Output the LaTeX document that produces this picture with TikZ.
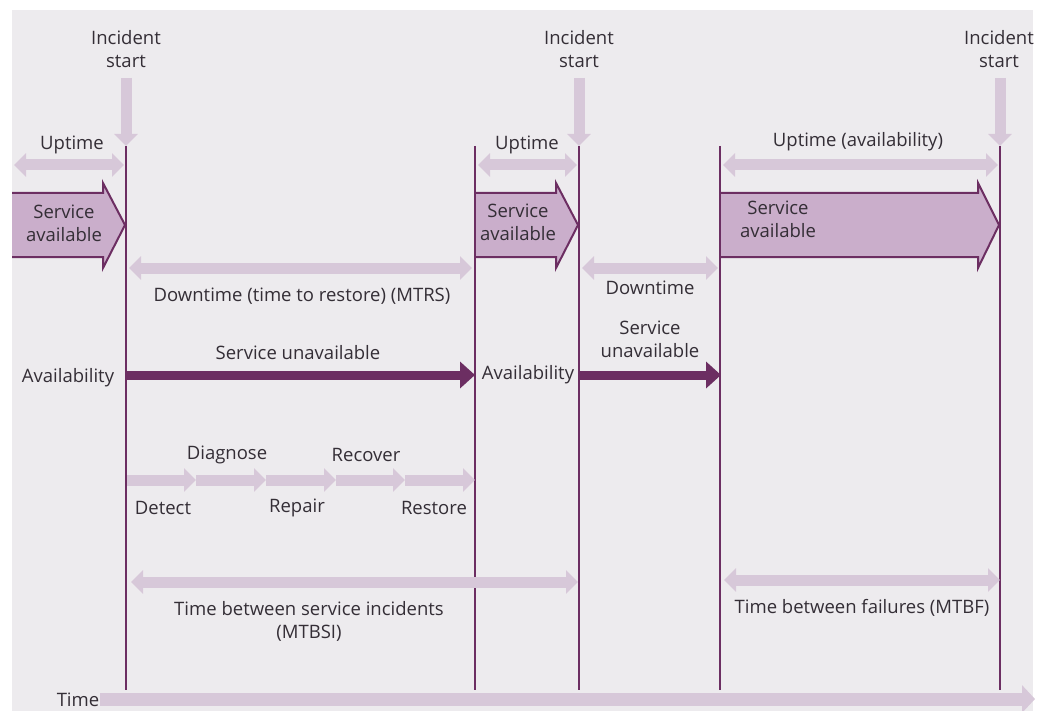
\documentclass[tikz,border=0pt]{standalone}
\usepackage{fontspec}
\setmainfont{Open Sans}
\usetikzlibrary{arrows.meta}
\definecolor{plum}{RGB}{108,46,98}
\definecolor{lilac}{RGB}{215,200,217}
\definecolor{mauve}{RGB}{202,174,203}
\definecolor{page}{RGB}{237,235,238}
\definecolor{ink}{RGB}{52,46,54}

\tikzset{
  lbl/.style={text=ink,font=\fontsize{18.5}{23}\selectfont,align=center,inner sep=0pt},
  span/.style={lilac,line width=11pt,{Triangle[width=23pt,length=12pt]}-{Triangle[width=23pt,length=12pt]}},
  fwd/.style={lilac,line width=11pt,-{Triangle[width=23pt,length=12pt]}},
  avail/.style={plum,line width=9pt,-{Triangle[width=26pt,length=15pt]}},
  tick/.style={plum,line width=2.4pt},
  block/.style={fill=mauve},
}

\begin{document}
\begin{tikzpicture}[x=1pt,y=-1pt,line join=miter]
  \useasboundingbox (0,0) rectangle (1040,711);
  \fill[page] (12,10) rectangle (1033,711);

  % service available blocks
  \foreach \xa/\xh/\xt in {12/103/125, 475/556/578, 720/978/999} {
    \fill[block] (\xa,193)--(\xh,193)--(\xh,183)--(\xt,225)--(\xh,268)--(\xh,257)--(\xa,257)--cycle;
    \draw[plum,line width=2pt] (\xa,193)--(\xh,193)--(\xh,183)--(\xt,225)--(\xh,268)--(\xh,257)--(\xa,257);
  }

  % time marks
  \foreach \x/\n in {126/a,475/b,579/c,720/d,1000/e} {
    \coordinate (\n top) at (\x,146);
    \coordinate (\n bot) at (\x,690);
    \draw[tick] (\n top)--(\n bot);
  }

  % incident arrows
  \foreach \x/\n in {126/a,579/c,1000/e} {
    \coordinate (\n inc) at (\x,78);
    \draw[fwd,line width=11pt] (\n inc)--(\n top);
  }

  % uptime
  \coordinate (up1) at (14,165);  \coordinate (up2) at (124,165);
  \coordinate (up3) at (478,165); \coordinate (up4) at (577,165);
  \coordinate (up5) at (723,165); \coordinate (up6) at (998,165);
  \draw[span] (up1)--(up2);
  \draw[span] (up3)--(up4);
  \draw[span] (up5)--(up6);

  % downtime
  \coordinate (dn1) at (129,268); \coordinate (dn2) at (472,268);
  \coordinate (dn3) at (582,268); \coordinate (dn4) at (718,268);
  \draw[span] (dn1)--(dn2);
  \draw[span] (dn3)--(dn4);

  % service unavailable
  \coordinate (un1) at (127,375); \coordinate (un2) at (475,375);
  \coordinate (un3) at (580,375); \coordinate (un4) at (721,375);
  \draw[avail] (un1)--(un2);
  \draw[avail] (un3)--(un4);

  % restore steps
  \foreach \x/\n in {127/s0,196/s1,266/s2,336/s3,405/s4,475/s5}
    \coordinate (\n) at (\x,480);
  \foreach \p/\q in {s0/s1,s1/s2,s2/s3,s3/s4,s4/s5}
    \draw[fwd] (\p)--(\q);

  % mtbsi, mtbf, time
  \coordinate (bs1) at (131,582); \coordinate (bs2) at (578,582);
  \coordinate (bf1) at (724,580); \coordinate (bf2) at (1000,580);
  \draw[span] (bs1)--(bs2);
  \draw[span] (bf1)--(bf2);
  \coordinate (tm1) at (100,699); \coordinate (tm2) at (1035,699);
  \draw[fwd,line width=13pt,-{Triangle[width=27pt,length=13pt]}] (tm1)--(tm2);

  % labels
  \node[lbl] (incA) at (126,49) {Incident\\start};
  \node[lbl] (incC) at (579,49) {Incident\\start};
  \node[lbl] (incE) at (999,49) {Incident\\start};
  \node[lbl] (upA) at (72,145) {Uptime};
  \node[lbl] (upB) at (527,145) {Uptime};
  \node[lbl] (upC) at (858,142) {Uptime (availability)};
  \node[lbl] (svA) at (64,223) {Service\\available};
  \node[lbl] (svB) at (518,222) {Service\\available};
  \node[lbl] (svC) at (778,219) {Service\\available};
  \node[lbl] (dnA) at (302,296) {Downtime (time to restore) (MTRS)};
  \node[lbl] (dnB) at (650,288) {Downtime};
  \node[lbl] (unA) at (298,353) {Service unavailable};
  \node[lbl] (unB) at (650,339) {Service\\unavailable};
  \node[lbl] (avA) at (68,378) {Availability};
  \node[lbl] (avB) at (528,375) {Availability};
  \node[lbl] (stDg) at (227,455) {Diagnose};
  \node[lbl] (stRc) at (366,455) {Recover};
  \node[lbl] (stDt) at (163,508) {Detect};
  \node[lbl] (stRp) at (297,508) {Repair};
  \node[lbl] (stRs) at (434,508) {Restore};
  \node[lbl] (bsi) at (309,621) {Time between service incidents\\(MTBSI)};
  \node[lbl] (bf) at (862,608) {Time between failures (MTBF)};
  \node[lbl] (tm) at (78,700) {Time};
\end{tikzpicture}
\end{document}
